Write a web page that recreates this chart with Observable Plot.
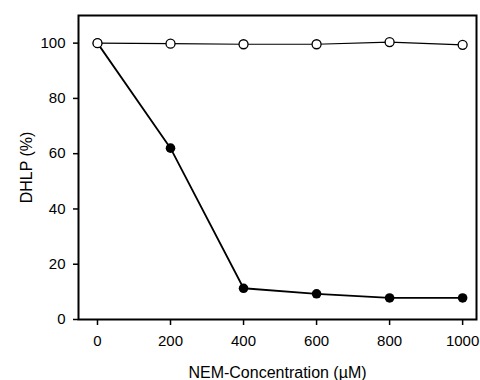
<!DOCTYPE html>
<html><head><meta charset="utf-8">
<script src="https://cdn.jsdelivr.net/npm/d3@7"></script>
<script src="https://cdn.jsdelivr.net/npm/@observablehq/plot@0.6"></script>
<style>
body{margin:0;background:#fff}
#chart svg{font-family:"Liberation Sans",Arial,sans-serif !important;}
#chart svg text{font-size:15px !important;fill:#000;}
#chart svg g[aria-label="x-axis label"] text,
#chart svg g[aria-label="y-axis label"] text{font-size:16px !important;}
</style>
</head><body><div id="chart"></div>
<script>
const conc = [0, 200, 400, 600, 800, 1000];
const control = [100, 99.8, 99.6, 99.6, 100.4, 99.4];
const nem = [100, 62, 11.3, 9.3, 7.8, 7.8];
const xTicks = [0, 200, 400, 600, 800, 1000];
const yTicks = [0, 20, 40, 60, 80, 100];

const ctrlData = conc.map((c, i) => ({x: c, y: control[i]}));
const nemData = conc.map((c, i) => ({x: c, y: nem[i]}));

const chart = Plot.plot({
  width: 480, height: 380,
  marginLeft: 78, marginRight: 4, marginTop: 15, marginBottom: 61,
  style: {fontFamily: "Liberation Sans, Arial, sans-serif", fontSize: "15px", color: "#000", background: "#fff"},
  x: {domain: [-52, 1038]},
  y: {domain: [0, 110]},
  marks: [
    Plot.axisX({ticks: xTicks, tickFormat: d => String(d), tickSize: 6, tickPadding: 10, strokeWidth: 1.5, label: "NEM-Concentration (µM)", labelAnchor: "center", labelOffset: 58, labelArrow: "none"}),
    Plot.axisY({ticks: yTicks, tickFormat: d => String(d), tickSize: 5, tickPadding: 8, strokeWidth: 1.5, label: "DHLP (%)", labelAnchor: "center", labelOffset: 58, labelArrow: "none"}),
    Plot.line(nemData, {x: "x", y: "y", stroke: "#000", strokeWidth: 1.8}),
    Plot.dot(nemData, {x: "x", y: "y", r: 4.8, fill: "#000", stroke: "none"}),
    Plot.line(ctrlData, {x: "x", y: "y", stroke: "#000", strokeWidth: 1.2}),
    Plot.dot(ctrlData, {x: "x", y: "y", r: 4.5, fill: "#fff", stroke: "#000", strokeWidth: 1.3}),
    Plot.frame({stroke: "#000", strokeWidth: 2})
  ]
});
document.getElementById("chart").appendChild(chart);
</script>
</body></html>
